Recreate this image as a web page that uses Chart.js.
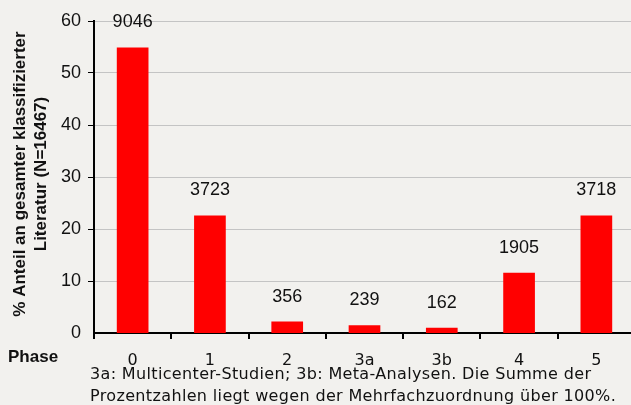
<!DOCTYPE html>
<html>
<head>
<meta charset="utf-8">
<script src="https://cdn.jsdelivr.net/npm/chart.js@4/dist/chart.umd.min.js"></script>
<style>
  html, body { margin: 0; padding: 0; background: #f2f1ee; overflow: hidden; }
  #wrap { width: 640px; height: 405px; }
</style>
</head>
<body>
<div id="wrap"><canvas id="phaseChart" width="640" height="405"></canvas></div>
<script>
// Data
var phases = ["0", "1", "2", "3a", "3b", "4", "5"];
var percentValues = [54.9, 22.6, 2.2, 1.5, 1.0, 11.6, 22.6];
var countLabels = ["9046", "3723", "356", "239", "162", "1905", "3718"];
var yTitleLines = ["% Anteil an gesamter klassifizierter", "Literatur (N=16467)"];
var footnoteLines = [
    "3a: Multicenter-Studien; 3b: Meta-Analysen. Die Summe der",
    "Prozentzahlen liegt wegen der Mehrfachzuordnung \u00fcber 100%."
];

// extra text: count labels, axis title, "Phase", footnote
var extraText = {
    id: 'extraText',
    afterDraw: function(chart) {
        var ctx = chart.ctx;
        var meta = chart.getDatasetMeta(0);
        ctx.save();
        ctx.fillStyle = '#111';
        ctx.textAlign = 'center';
        ctx.textBaseline = 'middle';
        ctx.font = '18px "Liberation Sans", Arial, sans-serif';
        meta.data.forEach(function(bar, i) {
            ctx.fillText(countLabels[i], bar.x, bar.y - 25);
        });

        // y axis title
        ctx.font = 'bold 17px "Liberation Sans", Arial, sans-serif';
        ctx.save();
        ctx.translate(20, 174);
        ctx.rotate(-Math.PI / 2);
        ctx.fillText(yTitleLines[0], 0, 0);
        ctx.fillText(yTitleLines[1], 0, 21);
        ctx.restore();

        ctx.textAlign = 'left';
        ctx.font = 'bold 17px "Liberation Sans", Arial, sans-serif';
        ctx.fillText('Phase', 8, 357);

        ctx.font = '16px "DejaVu Sans", sans-serif';
        ctx.letterSpacing = '0.35px';
        ctx.fillText(footnoteLines[0], 90, 375);
        ctx.fillText(footnoteLines[1], 90, 397);
        ctx.restore();
    }
};

var ctx = document.getElementById('phaseChart');
var phaseChart = new Chart(ctx, {
    type: 'bar',
    data: {
        labels: phases,
        datasets: [{
            data: percentValues,
            backgroundColor: '#ff0000',
            borderWidth: 0,
            barPercentage: 0.41,
            categoryPercentage: 1.0
        }]
    },
    options: {
        responsive: false,
        animation: false,
        layout: { padding: { top: 21, right: 5, left: 0, bottom: 0 } },
        plugins: {
            legend: { display: false },
            tooltip: { enabled: false }
        },
        scales: {
            y: {
                min: 0,
                max: 60,
                ticks: {
                    stepSize: 10,
                    color: '#111',
                    padding: 7,
                    font: { family: '"Liberation Sans", Arial, sans-serif', size: 18 }
                },
                grid: {
                    color: '#c4c4c4',
                    tickColor: '#000',
                    tickLength: 6,
                    lineWidth: function(c) { return c.tick && c.tick.value === 0 ? 0 : 1; }
                },
                border: { color: '#000', width: 2 },
                afterFit: function(scale) { scale.width = 94; }
            },
            x: {
                ticks: {
                    color: '#111',
                    padding: 12,
                    font: { family: '"DejaVu Sans", sans-serif', size: 16 }
                },
                grid: {
                    drawOnChartArea: false,
                    tickColor: '#000',
                    tickLength: 6,
                    lineWidth: 2
                },
                border: { color: '#000', width: 2 },
                afterFit: function(scale) { scale.height = 72; }
            }
        }
    },
    plugins: [extraText]
});
</script>
</body>
</html>
